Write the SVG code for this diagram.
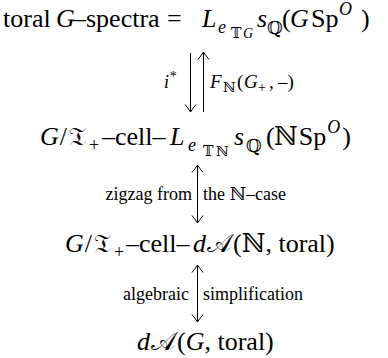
<svg xmlns="http://www.w3.org/2000/svg" width="388" height="358" viewBox="0 0 388 358">
<style>
.m{font-size:26px;}
.s{font-size:18px;}
.ss{font-size:14px;}
.lb{font-size:18px;}
.it{font-style:italic;}
.ar{stroke:#000;stroke-width:1;fill:none;}
</style>
<defs>
<marker id="tip" viewBox="-8 -7 10 14" refX="0" refY="0" markerWidth="10" markerHeight="14" markerUnits="userSpaceOnUse" orient="auto-start-reverse">
<path d="M -7.5 -5.5 Q -2.5 -1.5 0 0 Q -2.5 1.5 -7.5 5.5" fill="none" stroke="#000" stroke-width="1"/>
</marker>
</defs>
<rect width="388" height="358" fill="#fff"/>
<g font-family="'Liberation Serif', 'DejaVu Serif', serif" fill="#000">
<g id="node-toral-spectra">
<text class="m" y="27"><tspan x="3">toral</tspan><tspan class="it" x="56">G</tspan><tspan x="73">–spectra</tspan><tspan x="167">=</tspan><tspan class="it" x="202">L</tspan><tspan class="s it" x="218" y="33">e</tspan><tspan class="ss" x="231" y="38">𝕋</tspan><tspan class="ss it" x="243" y="38">G</tspan><tspan class="it" x="257" y="27">s</tspan><tspan class="s" x="267" y="34">ℚ</tspan><tspan x="282" y="27">(</tspan><tspan class="it" x="290">G</tspan><tspan x="311">Sp</tspan><tspan class="s it" x="339" y="15">O</tspan><tspan x="361" y="27">)</tspan></text>
</g>
<g id="node-cell-L">
<text class="m" y="145"><tspan class="it" x="40">G</tspan><tspan dx="1">/</tspan><tspan x="69">𝔗</tspan><tspan class="s" x="89" y="151">+</tspan><tspan x="102" y="145">–cell–</tspan><tspan class="it" x="170">L</tspan><tspan class="s it" x="188" y="151">e</tspan><tspan class="ss" x="203" y="156">𝕋</tspan><tspan class="ss" x="216" y="156">ℕ</tspan><tspan class="it" x="234" y="145">s</tspan><tspan class="s" x="246" y="152">ℚ</tspan><tspan x="266" y="145">(</tspan><tspan x="274">ℕ</tspan><tspan dx="1">Sp</tspan><tspan class="s it" dx="1" y="133">O</tspan><tspan dx="2" y="145">)</tspan></text>
</g>
<g id="node-cell-dA">
<text class="m" y="252"><tspan class="it" x="65">G</tspan><tspan dx="1">/</tspan><tspan x="94">𝔗</tspan><tspan class="s" x="114" y="258">+</tspan><tspan x="126" y="252">–cell–</tspan><tspan class="it" x="193">d</tspan><tspan dx="1">𝒜</tspan><tspan dx="1">(</tspan><tspan>ℕ, toral)</tspan></text>
</g>
<g id="node-dA">
<text class="m" y="350"><tspan class="it" x="137">d</tspan><tspan dx="1">𝒜</tspan><tspan dx="1">(</tspan><tspan class="it">G</tspan><tspan>, toral)</tspan></text>
</g>
<g id="connectors">
<line class="ar" x1="190.5" y1="53" x2="190.5" y2="112" marker-end="url(#tip)"/>
<line class="ar" x1="203.5" y1="112" x2="203.5" y2="52" marker-end="url(#tip)"/>
<text class="lb it" x="164" y="88">i<tspan class="ss" dy="-7">*</tspan></text>
<text class="lb" y="88"><tspan class="it" x="210" font-size="19">F</tspan><tspan class="ss" x="223" dy="4">ℕ</tspan><tspan x="237" dy="-4" font-size="19">(</tspan><tspan class="it" x="244" font-size="19">G</tspan><tspan class="ss" x="258" dy="4">+</tspan><tspan x="269" dy="-4" font-size="19">,</tspan><tspan x="278" font-size="19">–)</tspan></text>
<line class="ar" x1="197.5" y1="165" x2="197.5" y2="223" marker-start="url(#tip)" marker-end="url(#tip)"/>
<text class="lb" x="192" y="200" text-anchor="end">zigzag from</text>
<text class="lb" x="203" y="200">the ℕ–case</text>
<line class="ar" x1="197.5" y1="265" x2="197.5" y2="322" marker-start="url(#tip)" marker-end="url(#tip)"/>
<text class="lb" x="189" y="300" text-anchor="end">algebraic</text>
<text class="lb" x="203" y="300">simplification</text>
</g>
</g>
</svg>
